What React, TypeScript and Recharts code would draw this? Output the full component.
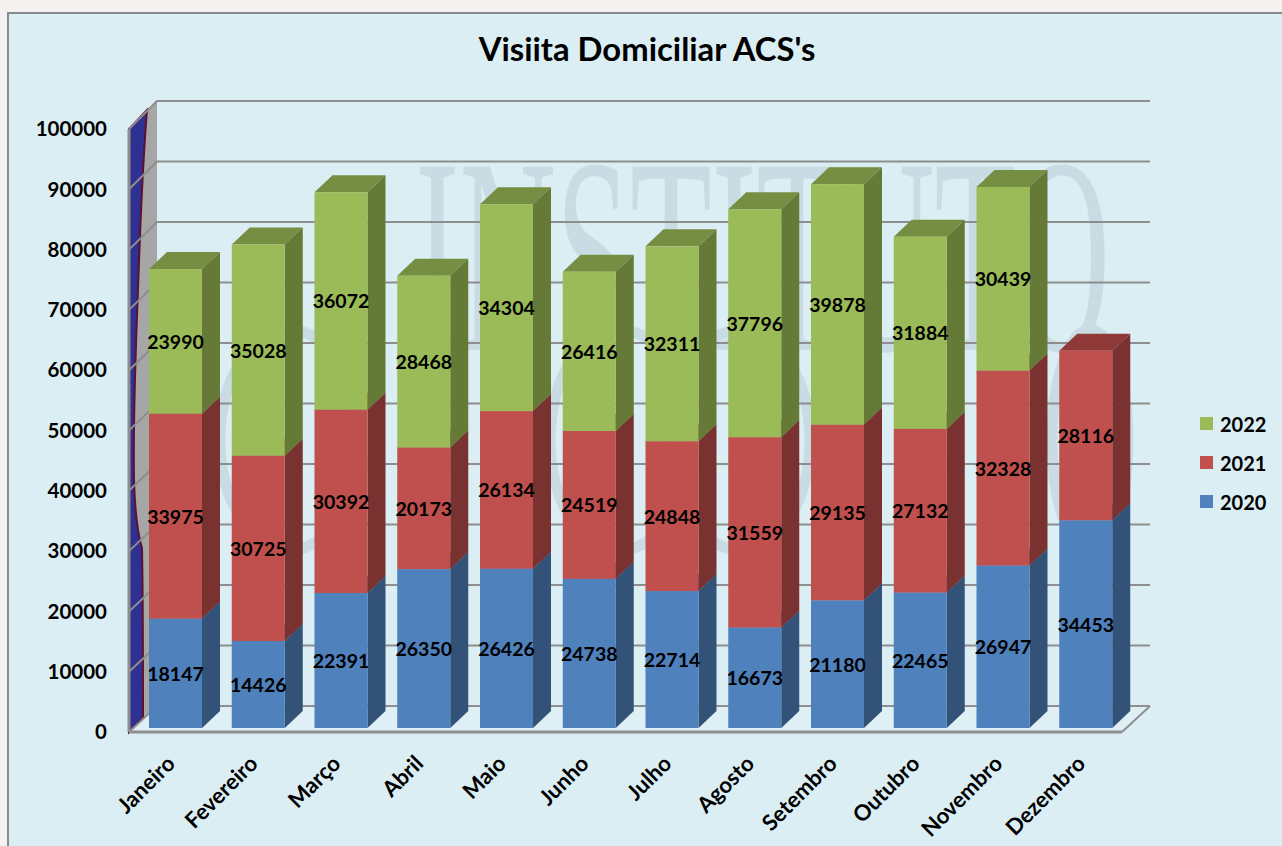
import { Bar, BarChart, CartesianGrid, LabelList, Legend, XAxis, YAxis } from "recharts";

const months = [
  "Janeiro", "Fevereiro", "Março", "Abril", "Maio", "Junho",
  "Julho", "Agosto", "Setembro", "Outubro", "Novembro", "Dezembro",
];
const values2020 = [18147, 14426, 22391, 26350, 26426, 24738, 22714, 16673, 21180, 22465, 26947, 34453];
const values2021 = [33975, 30725, 30392, 20173, 26134, 24519, 24848, 31559, 29135, 27132, 32328, 28116];
const values2022 = [23990, 35028, 36072, 28468, 34304, 26416, 32311, 37796, 39878, 31884, 30439, null];
const yTicks = [0, 10000, 20000, 30000, 40000, 50000, 60000, 70000, 80000, 90000, 100000];

const data = months.map((month, i) => ({
  month,
  y2020: values2020[i],
  y2021: values2021[i],
  y2022: values2022[i],
}));

const FONT = "Lato, 'Open Sans', sans-serif";
const GRID = "#8E8E8E";
// bars sit a little inside the floor, not on the front edge
const SHIFT_X = 5;
const SHIFT_Y = -4;
const DEPTH_X = 18;
const DEPTH_Y = 17;

const shades: Record<string, { top: string; side: string }> = {
  "#4F81BD": { top: "#3F6797", side: "#325277" },
  "#C0504D": { top: "#8F3A38", side: "#7A3230" },
  "#9BBB59": { top: "#758E42", side: "#647A36" },
};

function Bar3D(props: any) {
  const { x, y, width, height, fill } = props;
  if (!height || height <= 0) return null;
  const l = x + SHIFT_X;
  const r = l + width;
  const t = y + SHIFT_Y;
  const b = t + height;
  const { top, side } = shades[fill];
  return (
    <g>
      <polygon
        points={`${l},${t} ${l + DEPTH_X},${t - DEPTH_Y} ${r + DEPTH_X},${t - DEPTH_Y} ${r},${t}`}
        fill={top}
      />
      <polygon
        points={`${r},${t} ${r + DEPTH_X},${t - DEPTH_Y} ${r + DEPTH_X},${b - DEPTH_Y} ${r},${b}`}
        fill={side}
      />
      <rect x={l} y={t} width={width} height={height} fill={fill} />
    </g>
  );
}

function BarValue(props: any) {
  const { value } = props;
  if (value == null) return null;
  const box = props.viewBox ?? props;
  const { x, y, width, height } = box;
  return (
    <text
      x={x + SHIFT_X + width / 2}
      y={y + SHIFT_Y + height / 2}
      textAnchor="middle"
      dominantBaseline="central"
      fontFamily={FONT}
      fontWeight={700}
      fontSize={19.5}
      fill="#000"
    >
      {value}
    </text>
  );
}

function MonthTick({ x, y, payload }: any) {
  return (
    <text
      transform={`translate(${x + 6},${y + 25}) rotate(-45)`}
      textAnchor="end"
      fontFamily={FONT}
      fontWeight={700}
      fontSize={22}
      fill="#000"
    >
      {payload.value}
    </text>
  );
}

// gridline runs up the side wall, then along the back wall
function BackGridLine(props: any) {
  const { x1, x2, y1 } = props;
  const dy = 26 + ((732 - y1) / 603) * 2;
  return (
    <polyline
      points={`${x1},${y1} ${x1 + 28},${y1 - dy} ${x2 + 28},${y1 - dy}`}
      fill="none"
      stroke={GRID}
      strokeWidth={2}
    />
  );
}

function LegendBox({ payload }: any) {
  const items = [...(payload ?? [])].reverse();
  return (
    <div>
      {items.map((item: any) => (
        <div
          key={item.value}
          style={{ display: "flex", alignItems: "center", height: 39, fontFamily: FONT, fontWeight: 700, fontSize: 20, color: "#000" }}
        >
          <span style={{ width: 13, height: 13, background: item.color, marginRight: 7 }} />
          {item.value}
        </div>
      ))}
    </div>
  );
}

function Backdrop() {
  return (
    <svg width={1282} height={846} style={{ position: "absolute", left: 0, top: 0 }}>
      <rect width={1282} height={846} fill="#F3F2F1" />
      <rect x={8} y={13} width={1290} height={850} fill="#DBEEF4" stroke="#8A8A8A" strokeWidth={2} />

      {/* watermark on the back wall */}
      <text
        x={415}
        y={350}
        fontFamily="'Liberation Serif', serif"
        fontSize={280}
        textLength={695}
        lengthAdjust="spacingAndGlyphs"
        fill="#C9DCE4"
      >
        INSTITUTO
      </text>
      <g fill="none" stroke="#C9DCE4" strokeWidth={11}>
        <ellipse cx={290} cy={440} rx={70} ry={110} />
        <ellipse cx={620} cy={440} rx={70} ry={110} />
        <ellipse cx={740} cy={440} rx={70} ry={110} />
        <ellipse cx={1090} cy={440} rx={38} ry={110} />
      </g>

      {/* side wall and floor */}
      <polygon points="129,129 157,101 157,706 129,732" fill="#A6A6A6" />
      <path
        d="M129,129 L147,110 C143,160 140,230 138,290 C136,340 133,420 134,480 C135,515 138,535 142,548 C143,600 143,680 143,718 L129,732 Z"
        fill="#2E3192"
        stroke="#5E1030"
        strokeWidth={2}
      />
      <polygon points="129,732 157,706 1150,706 1122,732" fill="#DEF0F5" />
      <line x1={1122} y1={732} x2={1150} y2={706} stroke={GRID} strokeWidth={2} />

      <text
        x={647}
        y={61}
        textAnchor="middle"
        fontFamily={FONT}
        fontWeight={700}
        fontSize={32.8}
        fill="#000"
      >
        Visiita Domiciliar ACS's
      </text>
    </svg>
  );
}

export default function App() {
  return (
    <div style={{ position: "absolute", left: 0, top: 0, width: 1282, height: 846, overflow: "hidden" }}>
      <Backdrop />
      <div style={{ position: "absolute", left: 0, top: 0 }}>
        <BarChart
          width={1282}
          height={846}
          data={data}
          margin={{ top: 129, right: 160, bottom: 14, left: 49 }}
          barSize={53}
        >
          <CartesianGrid vertical={false} horizontal={BackGridLine} />
          <XAxis
            dataKey="month"
            height={100}
            interval={0}
            tickLine={false}
            axisLine={{ stroke: GRID, strokeWidth: 3 }}
            tick={MonthTick}
          />
          <YAxis
            width={80}
            domain={[0, 100000]}
            ticks={yTicks}
            interval={0}
            tickLine={false}
            tickSize={0}
            tickMargin={22}
            axisLine={{ stroke: GRID, strokeWidth: 3 }}
            tick={{ fontFamily: FONT, fontWeight: 700, fontSize: 20.5, fill: "#000" }}
          />
          <Legend
            layout="vertical"
            verticalAlign="middle"
            content={LegendBox}
            wrapperStyle={{ left: 1200, top: 404, width: 80 }}
          />
          <Bar dataKey="y2020" name="2020" stackId="a" fill="#4F81BD" shape={Bar3D} isAnimationActive={false}>
            <LabelList dataKey="y2020" content={BarValue} />
          </Bar>
          <Bar dataKey="y2021" name="2021" stackId="a" fill="#C0504D" shape={Bar3D} isAnimationActive={false}>
            <LabelList dataKey="y2021" content={BarValue} />
          </Bar>
          <Bar dataKey="y2022" name="2022" stackId="a" fill="#9BBB59" shape={Bar3D} isAnimationActive={false}>
            <LabelList dataKey="y2022" content={BarValue} />
          </Bar>
        </BarChart>
      </div>
    </div>
  );
}
